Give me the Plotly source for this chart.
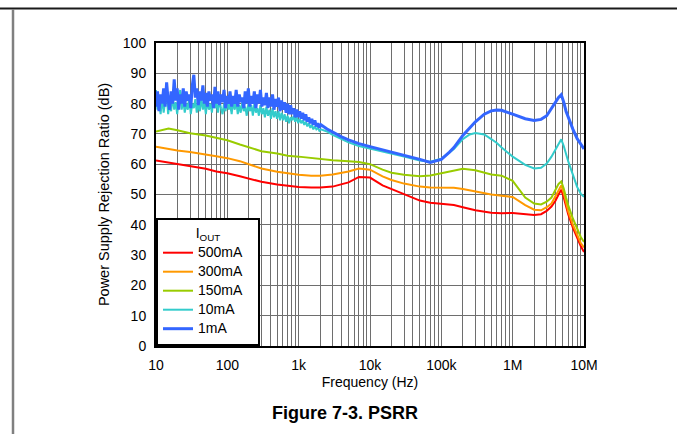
import plotly.graph_objects as go

# ---------------- data ----------------
series_names = ["500mA", "300mA", "150mA", "10mA", "1mA"]
series_colors = ["#FF0000", "#FF9900", "#99CC00", "#33CCCC", "#3366FF"]
series_widths = [2, 2, 2, 2, 3]

freq_smooth = [10, 15, 20, 30, 50, 70, 100, 150, 200, 300, 500, 700, 1000, 1500, 2000, 3000,
               5000, 7000, 10000, 15000, 20000, 30000, 50000, 70000, 100000, 150000, 200000,
               300000, 500000, 700000, 1e6, 1.5e6, 2e6, 2.5e6, 3e6, 3.5e6, 4e6, 4.4e6, 4.8e6,
               5.2e6, 5.6e6, 6e6, 7e6, 8e6, 9e6, 1e7]

psrr_500mA = [61.2, 60.5, 60.2, 59.5, 58.5, 57.6, 57.0, 56.0, 55.3, 54.2, 53.3, 52.8, 52.5, 52.3,
              52.3, 52.6, 54.0, 55.8, 55.6, 53.0, 51.8, 50.0, 48.0, 47.3, 47.0, 46.5, 45.8, 44.8,
              44.0, 43.8, 43.9, 43.6, 43.2, 43.5, 44.6, 46.0, 48.0, 50.0, 51.6, 49.0, 46.0, 43.5,
              39.0, 35.5, 33.0, 31.0]
psrr_300mA = [65.8, 65.0, 64.5, 64.0, 63.3, 62.6, 62.0, 61.0, 60.0, 58.6, 57.5, 56.9, 56.5, 56.2,
              56.2, 56.6, 57.6, 58.6, 58.2, 56.0, 54.8, 53.6, 52.6, 52.3, 52.3, 52.2, 51.8, 51.0,
              50.0, 49.6, 49.2, 46.5, 45.0, 44.8, 45.8, 47.0, 49.5, 51.8, 53.0, 50.5, 47.5, 44.5,
              40.0, 36.5, 34.0, 32.5]
psrr_150mA = [70.8, 71.8, 71.2, 70.2, 69.5, 68.6, 67.9, 66.5, 65.5, 64.3, 63.5, 62.8, 62.5, 62.0,
              61.6, 61.3, 61.0, 60.7, 60.0, 58.2, 57.2, 56.5, 56.0, 56.3, 57.0, 58.0, 58.5, 58.0,
              56.6, 56.2, 54.5, 49.0, 47.0, 46.7, 47.6, 49.0, 51.5, 53.5, 54.3, 52.0, 49.0, 46.5,
              42.0, 38.5, 36.0, 34.3]

freq_noisy = [10, 10.5, 11.0, 11.6, 12.2, 12.8, 13.4, 14.1, 14.8, 15.5,
              16.3, 17.1, 18.0, 18.9, 19.8, 20.8, 21.8, 22.9, 24.1, 25.3,
              26.5, 27.9, 29.3, 30.7, 32.3, 33.9, 35.6, 37.3, 39.2, 41.2,
              43.2, 45.4, 47.6, 50.0, 52.5, 55.2, 57.9, 60.8, 63.9, 67.1,
              70.4, 73.9, 77.6, 81.5, 85.6, 89.9, 94.4, 99.1, 104, 109,
              115, 120, 127, 133, 140, 147, 154, 162, 170, 178,
              187, 197, 206, 217, 228, 239, 251, 264, 277, 291,
              305, 320, 336, 353, 371, 390, 409, 430, 451, 474,
              497, 522, 548, 576, 605, 635, 667, 700, 735, 772,
              810, 851, 893, 938, 985, 1034, 1086, 1140, 1197, 1257,
              1320, 1386, 1455, 1528, 1604, 1685, 1769, 1857, 1950, 2048,
              2500, 3000, 4000, 5000, 7000, 10000, 15000, 20000, 30000, 50000, 70000, 100000,
              130000, 150000, 200000, 250000, 300000, 400000, 500000, 600000, 700000, 1e6,
              1.5e6, 2e6, 2.5e6, 3e6, 3.5e6, 4e6, 4.4e6, 4.8e6, 5.2e6, 5.6e6, 6e6, 7e6, 8e6,
              9e6, 1e7]

psrr_10mA = [84.5, 78, 81, 76.5, 82, 77, 80.5, 83, 76.5, 80,
             77.5, 82.5, 78, 80.5, 76.5, 81, 84.5, 78, 81, 77,
             80, 78, 82.5, 76.5, 80, 78.5, 81.5, 77, 80, 77.5,
             82, 78, 80.5, 76.5, 81, 78, 80, 77, 82, 78.5,
             80.5, 77, 81, 78.5, 76.5, 80, 77.5, 81, 78, 80,
             76.5, 80.5, 78, 81, 76.5, 79.5, 77, 80.5, 77.5, 79,
             76, 80, 77.5, 79.5, 76, 80, 77, 78.5, 76, 79.5,
             76.5, 78.5, 75.5, 79, 76, 78, 75, 78.5, 75.5, 77.5,
             75, 77.5, 74.5, 77, 74.5, 76.5, 74, 76, 73.5, 75.5,
             74.5, 76, 74, 75.5, 73.5, 75, 73.5, 74.5, 73, 74,
             72.5, 73.5, 72, 73, 71.5, 72.5, 71.5, 72, 71, 71.5,
             70.8, 69.7, 68.3, 67.2, 66.0, 65.2, 64.2, 63.5, 62.5, 61.2, 60.8, 61.8,
             63.8, 65.0, 68.3, 69.8, 70.3, 69.8, 68.3, 67.0, 65.5, 62.5,
             59.8, 58.6, 58.8, 60.2, 62.5, 65.0, 67.0, 68.2, 66.0, 63.0, 61.0, 56.5, 52.5,
             50.3, 49.2]

psrr_1mA = [79, 84, 77.5, 83, 80, 85, 79, 87, 81, 78,
            84, 80, 88, 81, 85, 78, 83, 80, 85, 79,
            84, 81, 83, 78.5, 86, 89.5, 82, 85, 79.5, 84,
            81, 86, 80, 83.5, 79, 84, 81, 83, 78.5, 85.5,
            80, 84, 79.5, 83, 80.5, 84.5, 78.5, 82.5, 80, 84,
            79, 82.5, 80, 84.5, 79, 83, 80.5, 82, 78.5, 84,
            80, 85, 79, 82.5, 80, 84, 78.5, 83, 80, 84.5,
            79, 82, 79.5, 83.5, 78.5, 82, 79, 83, 78, 81.5,
            79, 82, 77.5, 81, 78, 80.5, 77, 80, 76.5, 79.5,
            76.5, 78.5, 75.5, 78, 75.5, 77.5, 75, 77, 74.5, 76.5,
            74, 75.5, 73.5, 75, 73, 74.5, 72.5, 73.5, 72, 73,
            71.6, 70.5, 69.0, 68.0, 66.8, 65.8, 64.8, 64.0, 63.0, 61.6, 60.6, 61.6,
            64.0, 65.5, 69.5, 72.0, 74.0, 76.5, 77.6, 77.9, 77.8, 76.5,
            75.0, 74.4, 74.8, 76.0, 78.5, 80.5, 82.0, 82.9, 80.5, 77.5, 75.5, 71.5, 68.5,
            66.5, 65.0]

x_tick_labels = ["10", "100", "1k", "10k", "100k", "1M", "10M"]
y_tick_values = [0, 10, 20, 30, 40, 50, 60, 70, 80, 90, 100]

series_x = [freq_smooth, freq_smooth, freq_smooth, freq_noisy, freq_noisy]
series_y = [psrr_500mA, psrr_300mA, psrr_150mA, psrr_10mA, psrr_1mA]

# ---------------- figure ----------------
FONT = "Liberation Sans, Arial, sans-serif"
fig = go.Figure()
for name, color, w, xs, ys in zip(series_names, series_colors, series_widths, series_x, series_y):
    label = "<span style='font-size:14px'>" + name + "</span>&nbsp;&nbsp;&nbsp;"
    fig.add_trace(go.Scatter(x=xs, y=ys, mode="lines", name=label,
                             line=dict(color=color, width=w)))

# log grid: every 1..9 multiple, labels only on decades
x_tickvals, x_ticktext = [], []
for i, lab in enumerate(x_tick_labels):
    dec = 10 ** (i + 1)
    mults = range(1, 10) if i < len(x_tick_labels) - 1 else [1]
    for m in mults:
        x_tickvals.append(m * dec)
        x_ticktext.append(lab if m == 1 else "")

fig.update_layout(
    width=677, height=434,
    margin=dict(l=156, r=93, t=43, b=88),
    paper_bgcolor="white", plot_bgcolor="white",
    font=dict(family=FONT, size=14, color="black"),
    showlegend=True,
    legend=dict(
        x=0, y=0, xanchor="left", yanchor="bottom",
        bgcolor="white", bordercolor="black", borderwidth=2,
        font=dict(family=FONT, size=12, color="black"),
        title=dict(text="I<sub>OUT</sub>", side="top center",
                   font=dict(family=FONT, size=14, color="black")),
        tracegroupgap=0, itemwidth=30,
    ),
    xaxis=dict(
        type="log", range=[1, 7],
        tickvals=x_tickvals, ticktext=x_ticktext,
        showgrid=True, gridcolor="#6e6e6e", gridwidth=1,
        showline=True, linecolor="black", linewidth=2, mirror=True,
        ticks="", zeroline=False, ticklabelstandoff=5,
        tickfont=dict(family=FONT, size=14, color="black"),
        title=dict(text="Frequency (Hz)", standoff=5,
                   font=dict(family=FONT, size=14, color="black")),
    ),
    yaxis=dict(
        range=[0, 100], tickvals=y_tick_values,
        showgrid=True, gridcolor="#6e6e6e", gridwidth=1,
        showline=True, linecolor="black", linewidth=2, mirror=True,
        ticks="", zeroline=False, ticklabelstandoff=5,
        tickfont=dict(family=FONT, size=14, color="black"),
        title=dict(text="Power Supply Rejection Ratio (dB)", standoff=10,
                   font=dict(family=FONT, size=14.5, color="black")),
    ),
)

# page frame (decorations)
fig.add_shape(type="line", xref="paper", yref="paper",
              x0=-0.3645, x1=1.2173, y0=1.1139, y1=1.1139,
              line=dict(color="#1a1a1a", width=2))
fig.add_shape(type="line", xref="paper", yref="paper",
              x0=-0.3341, x1=-0.3341, y0=1.112, y1=-0.30,
              line=dict(color="#808080", width=2.5))

# caption
fig.add_annotation(text="<b>Figure 7-3. PSRR</b>", xref="paper", yref="paper",
                   x=(345 - 156) / 428, y=(346 - 413) / 303, xanchor="center", yanchor="middle",
                   showarrow=False, font=dict(family=FONT, size=18, color="black"))

fig.write_html("out.html", config={"displayModeBar": False},
               post_script="document.body.style.margin='0';document.body.style.overflow='hidden';")
